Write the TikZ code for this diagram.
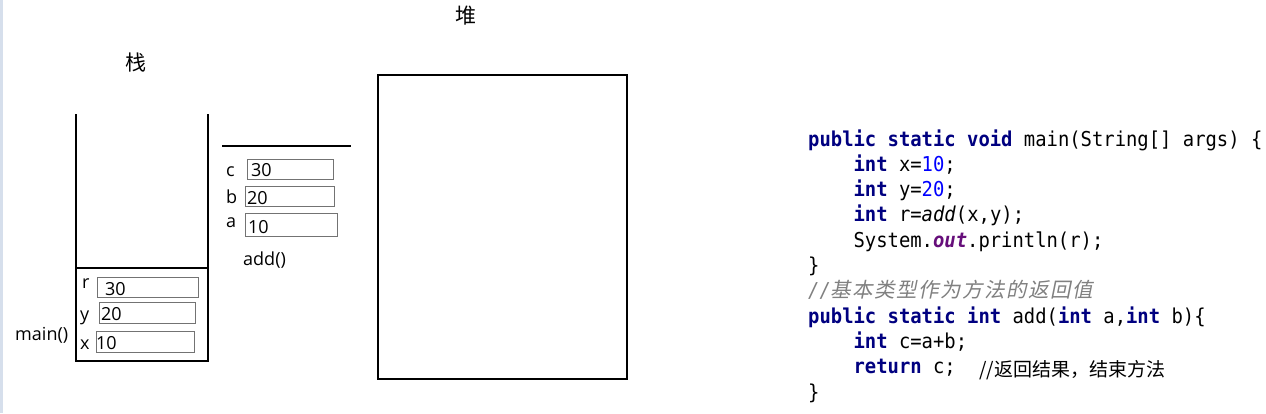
\documentclass[tikz,border=0pt]{standalone}
\usepackage{fontspec}
\newfontfamily\codefont[FakeStretch=0.92]{DejaVu Sans Mono}
\newfontfamily\cjk{Noto Sans CJK SC}
\newfontfamily\cjkit[FakeSlant=0.2,LetterSpace=7]{Noto Sans CJK SC}
\newfontfamily\lab{Open Sans}
\definecolor{kw}{HTML}{000080}
\definecolor{num}{HTML}{0000FF}
\definecolor{fld}{HTML}{660E7A}
\definecolor{cmt}{HTML}{808080}
\definecolor{edgestrip}{HTML}{D6DFEC}
\newcommand{\kwd}[1]{{\bfseries\color{kw}#1}}
\newcommand{\nmb}[1]{{\color{num}#1}}
\begin{document}
\begin{tikzpicture}[x=1pt,y=-1pt,
  stackline/.style={line width=2pt,black},
  valbox/.style={draw=black!55,line width=0.9pt,inner sep=0pt,anchor=north west},
  lbl/.style={font=\lab\fontsize{18}{20}\selectfont,inner sep=0pt,anchor=base west},
  title/.style={font=\cjk\fontsize{21}{24}\selectfont,inner sep=0pt},
  codeline/.style={font=\codefont\fontsize{20.5}{24}\selectfont,inner sep=0pt,anchor=base west},
  note/.style={font=\cjk\fontsize{19}{21}\selectfont,inner sep=0pt,anchor=base west}]
\useasboundingbox (0,0) rectangle (1266,413);
\fill[white] (0,0) rectangle (1266,413);
\fill[edgestrip] (0,0) rectangle (3,413);

% titles
\node[title] (stacktitle) at (136,63) {栈};
\node[title] (heaptitle) at (466,16) {堆};

% stack
\draw[stackline] (76,114) -- (76,361) -- (208,361) -- (208,114);
\draw[stackline] (76,268) -- (208,268);

% main frame
\node[lbl] (mainlbl) at (15,340) {main()};
\node[valbox,minimum width=101pt,minimum height=20pt] (rbox) at (97,277) {};
\node[valbox,minimum width=96pt,minimum height=21pt] (ybox) at (99,302) {};
\node[valbox,minimum width=98pt,minimum height=21pt] (xbox) at (96,331) {};
\node[lbl] (rl) at (82,288) {r};
\node[lbl] (yl) at (80,320) {y};
\node[lbl] (xl) at (80,349) {x};
\node[lbl] (rv) at (105,295) {30};
\node[lbl] (yv) at (101,320) {20};
\node[lbl] (xv) at (96,349) {10};

% add frame
\draw[stackline] (222,145.5) -- (351,145.5);
\node[valbox,minimum width=86pt,minimum height=20pt] (cbox) at (247,159) {};
\node[valbox,minimum width=89pt,minimum height=20pt] (bbox) at (245,186) {};
\node[valbox,minimum width=92pt,minimum height=23pt] (abox) at (245,213) {};
\node[lbl] (cl) at (226,176) {c};
\node[lbl] (bl) at (226,203) {b};
\node[lbl] (al) at (226,227) {a};
\node[lbl] (cv) at (251,176) {30};
\node[lbl] (bv) at (247,204) {20};
\node[lbl] (av) at (248,233) {10};
\node[lbl] (addlbl) at (243,265) {add()};

% heap
\node[draw,line width=2pt,minimum width=249pt,minimum height=304pt,inner sep=0pt,anchor=north west] (heap) at (377,74) {};

% code
\node[codeline] (c1) at (808,146.0) {\kwd{public static void} main(String[] args) \{};
\node[codeline] (c2) at (853.4,171.3) {\kwd{int} x=\nmb{10};};
\node[codeline] (c3) at (853.4,196.6) {\kwd{int} y=\nmb{20};};
\node[codeline] (c4) at (853.4,221.9) {\kwd{int} r=\textit{add}(x,y);};
\node[codeline] (c5) at (853.4,247.2) {System.{\bfseries\itshape\color{fld}out}.println(r);};
\node[codeline] (c6) at (808,272.5) {\}};
\node[codeline] (c7) at (808,297.8) {{\itshape\color{cmt}//}{\cjkit\color{cmt}基本类型作为方法的返回值}};
\node[codeline] (c8) at (808,323.1) {\kwd{public static int} add(\kwd{int} a,\kwd{int} b)\{};
\node[codeline] (c9) at (853.4,348.4) {\kwd{int} c=a+b;};
\node[codeline] (c10) at (853.4,373.7) {\kwd{return} c;};
\node[note] (c10note) at (979,376) {//返回结果，结束方法};
\node[codeline] (c11) at (808,399.0) {\}};
\end{tikzpicture}
\end{document}
